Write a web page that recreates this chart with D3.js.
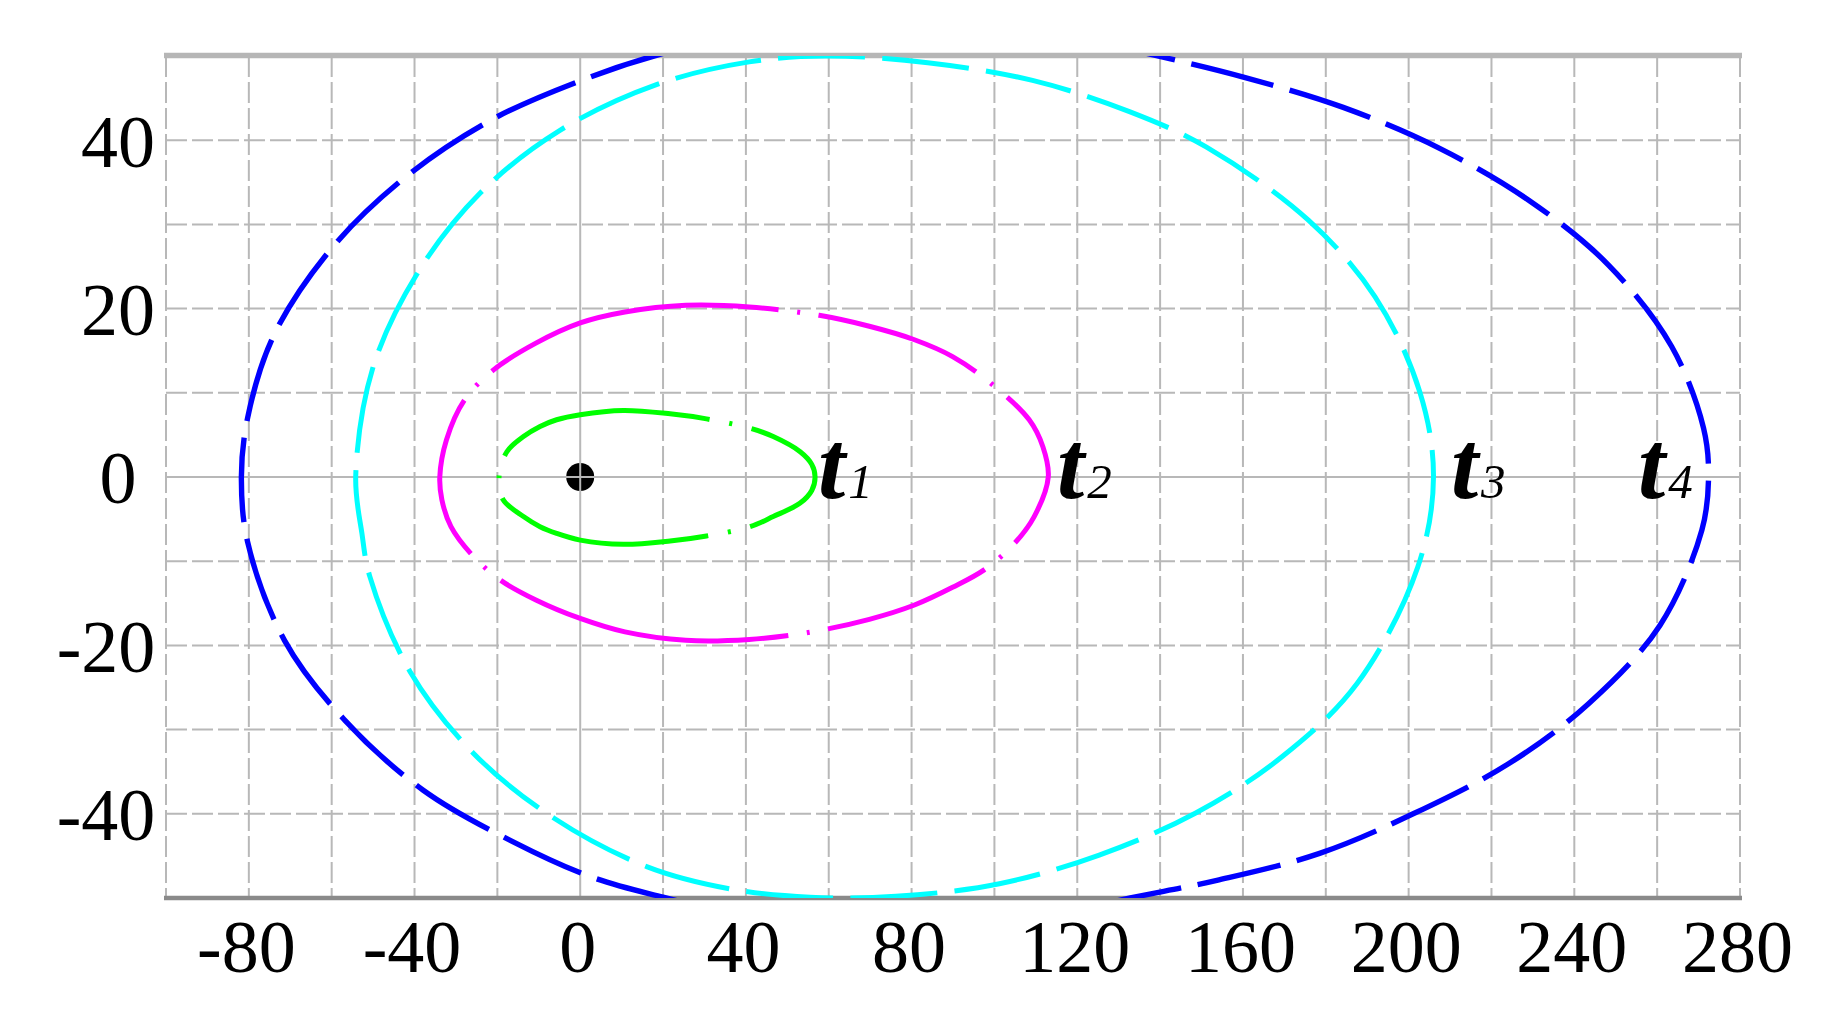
<!DOCTYPE html>
<html>
<head>
<meta charset="utf-8">
<script src="https://cdn.jsdelivr.net/npm/d3@7"></script>
<style>
  html, body { margin: 0; padding: 0; background: #fff; }
  svg { display: block; }
</style>
</head>
<body>
<div id="chart"></div>
<script>
// grid / tick values
var xGridTicks = [-100, -80, -60, -40, -20, 0, 20, 40, 60, 80, 100, 120, 140, 160, 180, 200, 220, 240, 260, 280];
var yGridTicks = [-50, -40, -30, -20, -10, 0, 10, 20, 30, 40, 50];
var xTickLabels = [-80, -40, 0, 40, 80, 120, 160, 200, 240, 280];
var yTickLabels = [-40, -20, 0, 20, 40];

// wave front curves, [x, y], starting at the left end and going over the top
var curveT1 = [[-19.6, 0], [-17.7, 3.0], [-13.7, 4.8], [-9.7, 6.0], [-5.7, 6.8], [0, 7.4], [10.4, 7.9],
    [21.7, 7.5], [30.5, 6.9], [41.0, 5.8], [46.6, 4.8], [53.1, 3.0], [55.9, 1.5], [56.7, 0], [55.9, -1.6],
    [53.1, -3.1], [46.6, -4.7], [41.0, -5.9], [30.5, -7.0], [21.7, -7.6], [10.4, -8.0], [0, -7.5],
    [-5.7, -6.7], [-9.7, -5.9], [-13.7, -4.7], [-18.6, -2.7]];

var curveT2 = [[-33.9, 0], [-32.3, 4.4], [-28.0, 9.1], [-21.0, 12.7], [-10.7, 15.9], [0, 18.3], [10.8, 19.6],
    [25.5, 20.4], [40.8, 20.2], [57.7, 19.2], [69.8, 17.9], [80.7, 16.3], [89.9, 14.3], [99.2, 11.1],
    [108.4, 6.8], [111.7, 3.6], [113, 0], [109.6, -4.7], [104.8, -7.9], [97.6, -11.0], [89.9, -13.1],
    [80.7, -15.2], [69.8, -16.9], [54.7, -18.5], [40.8, -19.3], [25.5, -19.4], [10.8, -18.4], [0, -16.8],
    [-10.7, -14.6], [-19.4, -12.2], [-26.4, -9.1], [-31.2, -5.9], [-33.4, -2.7]];

var curveT3 = [[-54.2, 0], [-50.1, 12.9], [-39.3, 24.2], [-24.2, 33.7], [-4.8, 41.2], [18.4, 46.6],
    [40.8, 49.3], [59.3, 50.0], [83.9, 49.2], [109.2, 47.1], [132.6, 43.4], [151.1, 39.2], [175.8, 30.5],
    [191.9, 21.4], [202.7, 10.1], [206.0, 0], [202.2, -10.7], [187.6, -24.5], [169.5, -33.2], [148.6, -39.9],
    [125.3, -44.9], [101.2, -48.3], [76.2, -49.8], [55.5, -49.9], [36.0, -48.9], [16.2, -46.3],
    [-6.4, -40.5], [-25.8, -32.8], [-41.1, -23.1], [-50.8, -11.8], [-52.7, -6.7]];

var curveT4 = [[-81.8, 0], [-80.3, 7.0], [-74.1, 16.7], [-60.3, 27.0], [-42.5, 35.5], [-21.5, 42.4],
    [1.3, 47.3], [19.2, 50.2], [45, 53], [79, 54.2], [112, 53], [138.6, 50.1], [160.1, 47.5], [184.2, 43.9],
    [207.6, 39.0], [228.9, 32.9], [248.2, 25.2], [263.5, 15.5], [271.2, 5.8], [272.4, 0], [270.8, -6.3],
    [260.7, -17.6], [243.5, -26.9], [224.3, -34.0], [201.1, -40.0], [178.5, -44.7], [153.7, -47.9],
    [132.8, -50.0], [106, -52.8], [78, -54], [48, -53], [20.0, -49.9], [2.7, -47.5], [-16.3, -43.3],
    [-37.9, -37.2], [-56.8, -28.9], [-71.4, -19.4], [-80.3, -7.7]];

var curveNames = ["1", "2", "3", "4"];
var labelX = [57.4, 115.1, 210.2, 255.4];
var source = [0, 0];

var curves = [curveT1, curveT2, curveT3, curveT4];
var colors = ["#00ff00", "#ff00ff", "#00ffff", "#0000ff"];
var widths = [5, 5, 5, 5.4];
// dash patterns in px along the curve, and where the curve start sits in the pattern
var dashes = [
    { pattern: [3, 20, 215, 19.5, 3, 19.5, 168, 19.5, 3, 19.5, 215, 20], offset: 1.5, repeat: false },
    { pattern: [300, 18.5, 3, 18.5, 168, 18.5, 3, 18.5, 167, 18.5, 3, 18.5, 168, 18.5, 3, 18.5, 298, 18.5, 3, 18.5, 166, 18.5, 3, 18.5], offset: 1386, repeat: false },
    { pattern: [86, 17], offset: 79, repeat: true },
    { pattern: [86, 17], offset: 46, repeat: true }
];

var W = 1833, H = 1013;
var font = "'Liberation Serif', 'Times New Roman', serif";

var svg = d3.select("#chart").append("svg")
    .attr("width", W)
    .attr("height", H);

var x = d3.scaleLinear().domain([-100, 280]).range([166, 1740]);
var y = d3.scaleLinear().domain([-50, 50]).range([898, 56]);

svg.append("clipPath").attr("id", "plotclip")
    .append("rect")
    .attr("x", x(-100)).attr("y", y(50))
    .attr("width", x(280) - x(-100)).attr("height", y(-50) - y(50));

// source point sits under the grid
svg.append("circle")
    .attr("cx", x(source[0])).attr("cy", y(source[1]))
    .attr("r", 14)
    .attr("fill", "#000");

// grid
var grid = svg.append("g");
grid.selectAll("line.v")
    .data(xGridTicks)
    .enter().append("line").attr("class", "v")
    .attr("x1", function (d) { return x(d); })
    .attr("x2", function (d) { return x(d); })
    .attr("y1", y(50)).attr("y2", y(-50))
    .attr("stroke", "#b8b8b8")
    .attr("stroke-width", 2)
    .attr("stroke-dasharray", function (d) { return d == 0 ? null : "21,5"; });

grid.selectAll("line.h")
    .data(yGridTicks.filter(function (d) { return d != 50 && d != -50; }))
    .enter().append("line").attr("class", "h")
    .attr("y1", function (d) { return y(d); })
    .attr("y2", function (d) { return y(d); })
    .attr("x1", x(-100)).attr("x2", x(280))
    .attr("stroke", "#b8b8b8")
    .attr("stroke-width", 2)
    .attr("stroke-dasharray", function (d) { return d == 0 ? null : "21,5"; });

// top and bottom frame
svg.append("line")
    .attr("x1", x(-100) - 2).attr("x2", x(280) + 2)
    .attr("y1", y(50) - 0.5).attr("y2", y(50) - 0.5)
    .attr("stroke", "#b6b6b6").attr("stroke-width", 5.5);
svg.append("line")
    .attr("x1", x(-100) - 2).attr("x2", x(280) + 2)
    .attr("y1", y(-50)).attr("y2", y(-50))
    .attr("stroke", "#8a8a8a").attr("stroke-width", 4.5);

// curves
var line = d3.line()
    .x(function (d) { return x(d[0]); })
    .y(function (d) { return y(d[1]); })
    .curve(d3.curveCatmullRomClosed.alpha(0.5));

var plot = svg.append("g").attr("clip-path", "url(#plotclip)");

curves.forEach(function (pts, i) {
    // closed catmull-rom paths start at the second point, so put the last point first
    var ordered = [pts[pts.length - 1]].concat(pts.slice(0, -1));
    var p = plot.append("path")
        .attr("d", line(ordered))
        .attr("fill", "none")
        .attr("stroke", colors[i])
        .attr("stroke-width", widths[i]);
    var len = p.node().getTotalLength();
    var sum = d3.sum(dashes[i].pattern);
    var n = dashes[i].repeat ? Math.max(1, Math.round(len / sum)) : 1;
    var k = len / (n * sum);
    p.attr("stroke-dasharray", dashes[i].pattern.map(function (v) { return (v * k).toFixed(2); }).join(","))
        .attr("stroke-dashoffset", (dashes[i].offset * k).toFixed(2));
});

// axes (plain hyphen for the minus, as in the original)
var fmt = function (d) { return String(d); };

var xAxis = svg.append("g")
    .attr("transform", "translate(0," + y(-50) + ")")
    .call(d3.axisBottom(x).tickValues(xTickLabels).tickFormat(fmt).tickSize(0).tickPadding(0));
xAxis.select(".domain").remove();
xAxis.selectAll("text")
    .attr("y", 74)
    .attr("dy", null)
    .attr("dx", -3)
    .style("font-family", font)
    .style("font-size", "74px")
    .attr("fill", "#000");

var yAxis = svg.append("g")
    .attr("transform", "translate(" + x(-100) + ",0)")
    .call(d3.axisLeft(y).tickValues(yTickLabels).tickFormat(fmt).tickSize(0).tickPadding(0));
yAxis.select(".domain").remove();
yAxis.selectAll("text")
    .attr("x", -48)
    .attr("dy", "0.35em")
    .attr("text-anchor", "middle")
    .attr("dx", function (d) { return d < 0 ? -12 : 0; })
    .style("font-family", font)
    .style("font-size", "74px")
    .attr("fill", "#000");

// curve labels t1..t4
var labels = svg.append("g");
curveNames.forEach(function (name, i) {
    var t = labels.append("text")
        .attr("x", x(labelX[i]))
        .attr("y", y(-2.5))
        .style("font-family", font)
        .style("font-style", "italic")
        .attr("fill", "#000");
    t.append("tspan")
        .style("font-size", "98px")
        .style("font-weight", "bold")
        .text("t");
    t.append("tspan")
        .attr("dx", 3)
        .style("font-size", "49px")
        .style("font-weight", "normal")
        .text(name);
});
</script>
</body>
</html>
